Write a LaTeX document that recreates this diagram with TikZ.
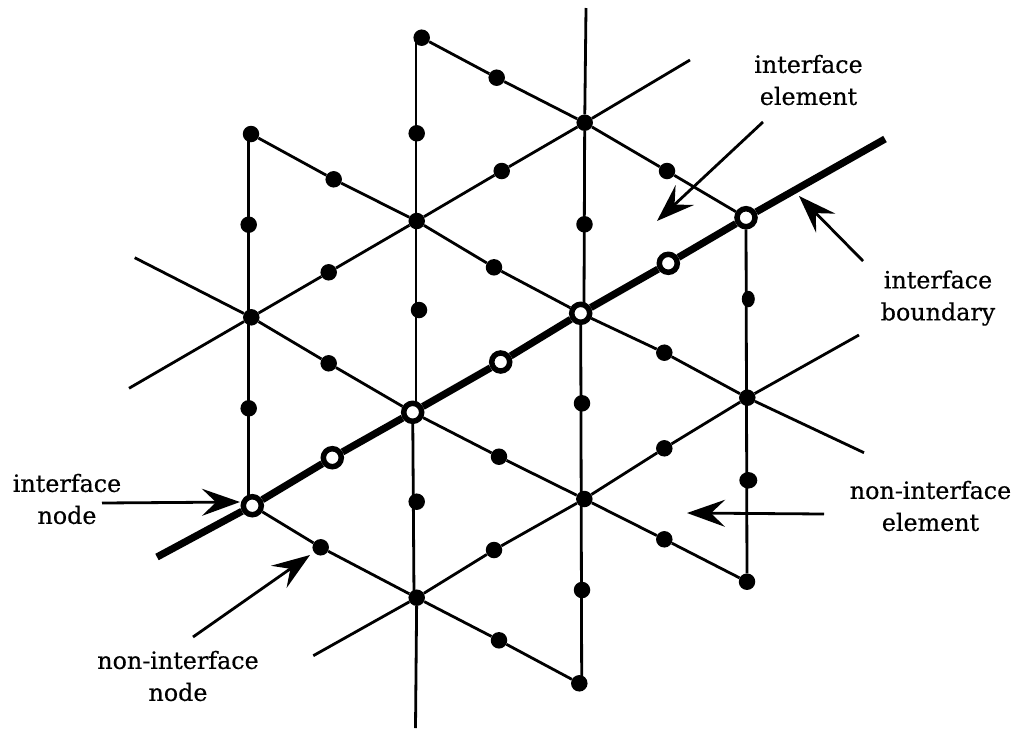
\documentclass[tikz,border=0pt]{standalone}
\usepackage{fontspec}
\setmainfont[RawFeature={embolden=0.5}]{DejaVu Serif}
\usetikzlibrary{arrows.meta,shapes.geometric}
\tikzset{
  soliddot/.style={circle,fill=black,inner sep=0pt,minimum size=16.5pt},
  squashdot/.style={ellipse,fill=black,inner sep=0pt,minimum height=16.5pt},
  opendot/.style={circle,draw=black,fill=white,line width=5.5pt,inner sep=0pt,minimum size=18pt},
  meshline/.style={line width=2.8pt},
  interfaceline/.style={line width=7.2pt},
  pointer/.style={line width=2.8pt,-{Stealth[length=38pt,width=27pt,inset=14pt]}},
  caption/.style={align=center,font=\fontsize{23.8}{32}\selectfont}
}
\begin{document}
\begin{tikzpicture}[x=1pt,y=-1pt]
                \useasboundingbox (0,0) rectangle (1021,729);

                % ===== mesh corners =====
                \node[soliddot] (cornerA) at (421.7,37.7) {};
                \node[soliddot] (cornerB) at (251,134) {};
                \node[soliddot] (cornerC) at (747,581.7) {};
                \node[soliddot] (cornerD) at (579.3,683.3) {};

                % ===== element vertices =====
                \node[soliddot] (vertA) at (584.7,122.7) {};
                \node[soliddot] (vertB) at (416.7,221) {};
                \node[soliddot] (vertC) at (251.3,317.3) {};
                \node[soliddot] (vertD) at (747.3,397.7) {};
                \node[soliddot] (vertE) at (584.3,499) {};
                \node[soliddot] (vertF) at (416.7,597.7) {};

                % ===== midside nodes =====
                \node[soliddot] (midA) at (496.7,77.7) {};
                \node[soliddot] (midB) at (416.7,133.3) {};
                \node[soliddot] (midC) at (501.7,171) {};
                \node[soliddot] (midD) at (667,171) {};
                \node[soliddot] (midE) at (333.7,179.3) {};
                \node[soliddot] (midF) at (248.7,224.7) {};
                \node[soliddot] (midG) at (584.5,224.3) {};
                \node[soliddot] (midH) at (328.7,272.3) {};
                \node[soliddot] (midI) at (494,267.3) {};
                \node[soliddot] (midJ) at (419,310) {};
                \node[squashdot,minimum width=13pt] (midK) at (748.3,299) {};
                \node[soliddot] (midL) at (664.3,352.7) {};
                \node[soliddot] (midM) at (328.7,363.3) {};
                \node[soliddot] (midN) at (582,403.3) {};
                \node[soliddot] (midO) at (248.7,408.3) {};
                \node[soliddot] (midP) at (664.3,448.3) {};
                \node[soliddot] (midQ) at (499,456.7) {};
                \node[squashdot,minimum width=18pt] (midR) at (748.3,480.3) {};
                \node[soliddot] (midS) at (416.7,501.7) {};
                \node[soliddot] (midT) at (664.3,539.3) {};
                \node[soliddot] (midU) at (320.7,547.3) {};
                \node[soliddot] (midV) at (494,550) {};
                \node[soliddot] (midW) at (582,590) {};
                \node[soliddot] (midX) at (499,640.3) {};

                % ===== interface nodes =====
                \node[opendot] (ifaceA) at (746,217.7) {};
                \node[opendot] (ifaceB) at (668.3,263.3) {};
                \node[opendot] (ifaceC) at (580.7,313.3) {};
                \node[opendot] (ifaceD) at (500.7,362) {};
                \node[opendot] (ifaceE) at (412.7,412.3) {};
                \node[opendot] (ifaceF) at (332.3,457.7) {};
                \node[opendot] (ifaceG) at (252.3,505.7) {};

                % ===== free ends of the mesh lines =====
                \coordinate (endA) at (586,8);
                \coordinate (endB) at (690,60);
                \coordinate (endC) at (885,139);
                \coordinate (endD) at (134.7,257.7);
                \coordinate (endE) at (129,388.3);
                \coordinate (endF) at (859,335);
                \coordinate (endG) at (864,452.7);
                \coordinate (endH) at (157,557);
                \coordinate (endI) at (313.3,655.7);
                \coordinate (endJ) at (415.5,728);

                % ===== column lines stop inside the dots =====
                \coordinate (colAtop) at (248.5,134);
                \coordinate (colAbot) at (248.5,497);
                \coordinate (colBtop) at (416,38);
                \coordinate (colBmid) at (416,403);
                \coordinate (colBbot) at (414,597);
                \coordinate (colCmid) at (584,304);
                \coordinate (colCbot) at (581.7,683);

                % ===== lines falling to the right =====
                \draw[meshline] (cornerA) -- (midA) -- (vertA) -- (midD) -- (ifaceA);
                \draw[meshline] (cornerB) -- (midE) -- (vertB) -- (midI) -- (ifaceC) -- (midL) -- (vertD) -- (endG);
                \draw[meshline] (endD) -- (vertC) -- (midM) -- (ifaceE) -- (midQ) -- (vertE) -- (midT) -- (cornerC);
                \draw[meshline] (ifaceG) -- (midU) -- (vertF) -- (midX) -- (cornerD);

                % ===== lines rising to the right =====
                \draw[meshline] (endE) -- (vertC) -- (midH) -- (vertB) -- (midC) -- (vertA) -- (endB);
                \draw[meshline] (endI) -- (vertF) -- (midV) -- (vertE) -- (midP) -- (vertD) -- (endF);

                % ===== vertical lines =====
                \draw[meshline] (colAtop) -- (colAbot);
                \draw[meshline] (colBtop) -- (colBmid);
                \draw[meshline] (ifaceE) -- (colBbot);
                \draw[meshline] (vertF) -- (endJ);
                \draw[meshline] (endA) -- (vertA) -- (colCmid);
                \draw[meshline] (ifaceC) -- (colCbot);
                \draw[meshline] (ifaceA) -- (cornerC);

                % ===== interface boundary =====
                \draw[interfaceline] (endH) -- (ifaceG) -- (ifaceF) -- (ifaceE) -- (ifaceD) -- (ifaceC) -- (ifaceB) -- (ifaceA) -- (endC);

                % ===== labels =====
                \node[caption] (elemlabel) at (808.5,80) {interface\\element};
                \node[caption] (boundlabel) at (938,298) {interface\\boundary};
                \node[caption] (nodelabel) at (67,499) {interface\\node};
                \node[caption] (plainnodelabel) at (178,676) {non-interface\\node};
                \node[caption] (plainelemlabel) at (930.5,506) {non-interface\\element};

                % ===== arrows =====
                \coordinate (elemtail) at (763,122);
                \coordinate (elemtip) at (657,221);
                \coordinate (boundtail) at (863,261);
                \coordinate (boundtip) at (799,196);
                \coordinate (nodetail) at (102,503);
                \coordinate (nodetip) at (240,502);
                \coordinate (plainnodetail) at (193,637);
                \coordinate (plainnodetip) at (310,555);
                \coordinate (plainelemtail) at (824,514);
                \coordinate (plainelemtip) at (687,513);
                \draw[pointer] (elemtail) -- (elemtip);
                \draw[pointer] (boundtail) -- (boundtip);
                \draw[pointer] (nodetail) -- (nodetip);
                \draw[pointer] (plainnodetail) -- (plainnodetip);
                \draw[pointer] (plainelemtail) -- (plainelemtip);

                \end{tikzpicture}
\end{document}
